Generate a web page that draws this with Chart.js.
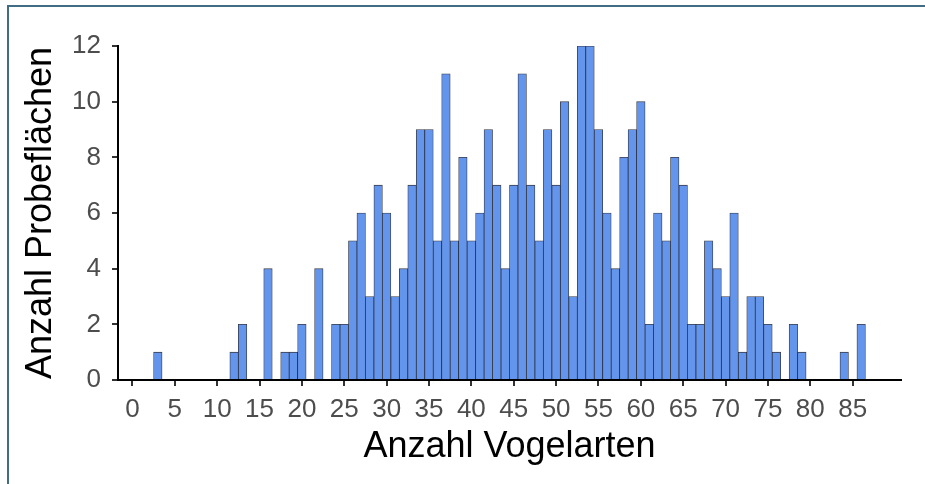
<!DOCTYPE html>
<html>
<head>
<meta charset="utf-8">
<script src="https://cdn.jsdelivr.net/npm/chart.js@4/dist/chart.umd.min.js"></script>
<style>
  html, body { margin: 0; padding: 0; background: #fff; }
  #rahmen { position: absolute; left: 7px; top: 5px; width: 930px; height: 490px;
            border-top: 2px solid #406c84; border-left: 2px solid #406c84; }
  #chart-histo { position: absolute; left: 0; top: 0; }
</style>
</head>
<body>
<div id="rahmen"></div>
<canvas id="chart-histo" width="925" height="484"></canvas>
<script>
// Histogramm: Anzahl Vogelarten pro Probefläche (Binbreite 1)

const vogelarten = [
   3,  4,  5,  6,  7,  8,  9, 10, 11, 12, 13, 14, 15, 16, 17, 18, 19, 20, 21, 22,
  23, 24, 25, 26, 27, 28, 29, 30, 31, 32, 33, 34, 35, 36, 37, 38, 39, 40, 41, 42,
  43, 44, 45, 46, 47, 48, 49, 50, 51, 52, 53, 54, 55, 56, 57, 58, 59, 60, 61, 62,
  63, 64, 65, 66, 67, 68, 69, 70, 71, 72, 73, 74, 75, 76, 77, 78, 79, 80, 81, 82,
  83, 84, 85, 86
];
const probeflaechen = [
   1,  0,  0,  0,  0,  0,  0,  0,  0,  1,  2,  0,  0,  4,  0,  1,  1,  2,  0,  4,
   0,  2,  2,  5,  6,  3,  7,  6,  3,  4,  7,  9,  9,  5, 11,  5,  8,  5,  6,  9,
   7,  4,  7, 11,  7,  5,  9,  7, 10,  3, 12, 12,  9,  6,  4,  8,  9, 10,  2,  6,
   5,  8,  7,  2,  2,  5,  4,  3,  6,  1,  3,  3,  2,  1,  0,  2,  1,  0,  0,  0,
   0,  1,  0,  2
];
const xTicks = [0, 5, 10, 15, 20, 25, 30, 35, 40, 45, 50, 55, 60, 65, 70, 75, 80, 85];
const yTicks = [0, 2, 4, 6, 8, 10, 12];

const FONT = "'Liberation Sans', Arial, sans-serif";

const ctx = document.getElementById('chart-histo');
new Chart(ctx, {
  type: 'bar',
  data: {
    datasets: [{
      data: vogelarten.map((v, i) => ({ x: v, y: probeflaechen[i] })),
      backgroundColor: '#6495ED',
      borderColor: 'rgba(20,25,40,0.85)',
      borderWidth: 0.8,
      borderSkipped: 'start',
      barPercentage: 1,
      categoryPercentage: 1,
    }],
  },
  options: {
    responsive: false, animation: false, devicePixelRatio: 1,
    layout: { padding: { top: 46, right: 24, left: 0, bottom: 0 } },
    scales: {
      x: {
        type: 'linear', min: -1.7, max: 90.7, offset: false,
        afterBuildTicks: s => { s.ticks = xTicks.map(v => ({ value: v })); },
        afterFit: s => { s.height = 104; },
        border: { display: true, color: '#000', width: 2 },
        grid: { display: true, offset: false, drawOnChartArea: false, drawTicks: true, tickLength: 6, color: '#333', lineWidth: 2 },
        ticks: { color: '#4d4d4d', padding: 8, maxRotation: 0, autoSkip: false, font: { family: FONT, size: 26 } },
        title: { display: true, text: 'Anzahl Vogelarten', color: '#000', padding: { top: 0, bottom: 15 }, font: { family: FONT, size: 36 } },
      },
      y: {
        min: 0, max: 12,
        afterBuildTicks: s => { s.ticks = yTicks.map(v => ({ value: v })); },
        afterFit: s => { s.width = 118; },
        border: { display: true, color: '#000', width: 2 },
        grid: { display: true, drawOnChartArea: false, drawTicks: true, tickLength: 6, color: '#333', lineWidth: 2 },
        ticks: { color: '#4d4d4d', padding: 11, font: { family: FONT, size: 26 } },
        title: { display: true, text: 'Anzahl Probeflächen', color: '#000', padding: { top: 19, bottom: 0 }, font: { family: FONT, size: 36 } },
      },
    },
    plugins: {
      legend: { display: false },
      tooltip: { enabled: false },
    },
  },
});
</script>
</body>
</html>
